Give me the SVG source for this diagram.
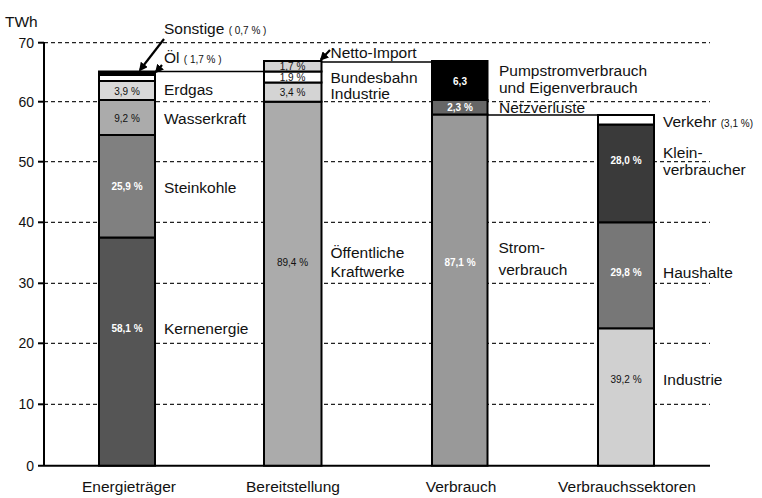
<svg xmlns="http://www.w3.org/2000/svg" width="762" height="498" viewBox="0 0 762 498">
<style>
text{font-family:"Liberation Sans",Arial,sans-serif;fill:#111}
.lb{font-size:15.5px}
.sm{font-size:10px}
.pc{font-size:10px;text-anchor:middle}
.pw{font-size:10px;text-anchor:middle;fill:#fff;font-weight:bold}
.ax{font-size:14px;text-anchor:end}
.cat{font-size:15.5px;text-anchor:middle}
.grid{stroke:#222;stroke-width:1.2;stroke-dasharray:4 3}
.seg{stroke:#000;stroke-width:2}
.con{stroke:#000;stroke-width:1.5;fill:none}
.arr{stroke:#000;stroke-width:2.2;fill:none;marker-end:url(#ah)}
</style>
<defs>
<marker id="ah" viewBox="0 0 10 10" refX="8" refY="5" markerWidth="4" markerHeight="4" orient="auto" markerUnits="strokeWidth">
<path d="M0,0 L10,5 L0,10 z" fill="#000"/>
</marker>
</defs>
<rect width="762" height="498" fill="#fff"/>
<g id="axes">
<line class="grid" x1="44" y1="42.7" x2="710" y2="42.7"/>
<line class="grid" x1="44" y1="101.7" x2="710" y2="101.7"/>
<line class="grid" x1="44" y1="161.7" x2="710" y2="161.7"/>
<line class="grid" x1="44" y1="222.3" x2="710" y2="222.3"/>
<line class="grid" x1="44" y1="283.3" x2="710" y2="283.3"/>
<line class="grid" x1="44" y1="343.3" x2="710" y2="343.3"/>
<line class="grid" x1="44" y1="404.3" x2="710" y2="404.3"/>
<line x1="44" y1="42" x2="44" y2="466" stroke="#000" stroke-width="2"/>
<line x1="38" y1="465.7" x2="710" y2="465.7" stroke="#000" stroke-width="2"/>
<g stroke="#000" stroke-width="2">
<line x1="38" y1="42.7" x2="44" y2="42.7"/><line x1="38" y1="101.7" x2="44" y2="101.7"/>
<line x1="38" y1="161.7" x2="44" y2="161.7"/><line x1="38" y1="222.3" x2="44" y2="222.3"/>
<line x1="38" y1="283.3" x2="44" y2="283.3"/><line x1="38" y1="343.3" x2="44" y2="343.3"/>
<line x1="38" y1="404.3" x2="44" y2="404.3"/>
</g>
<text x="5" y="27" class="lb">TWh</text>
<text x="34" y="47.5" class="ax">70</text>
<text x="34" y="106.5" class="ax">60</text>
<text x="34" y="166.5" class="ax">50</text>
<text x="34" y="227" class="ax">40</text>
<text x="34" y="288" class="ax">30</text>
<text x="34" y="348" class="ax">20</text>
<text x="34" y="409" class="ax">10</text>
<text x="34" y="470.5" class="ax">0</text>
<text x="129" y="491.5" class="cat">Energieträger</text>
<text x="293" y="491.5" class="cat">Bereitstellung</text>
<text x="461" y="491.5" class="cat">Verbrauch</text>
<text x="627" y="491.5" class="cat">Verbrauchssektoren</text>
</g>
<g id="connectors">
<line class="con" x1="155" y1="71.5" x2="264" y2="71.5"/>
<line class="con" x1="321" y1="62" x2="432" y2="62"/>
<line class="con" x1="487" y1="115" x2="598" y2="115"/>
<line class="arr" x1="164" y1="39" x2="140" y2="70"/>
<line class="arr" x1="162" y1="65" x2="156" y2="72"/>
<line class="arr" x1="330" y1="50" x2="321" y2="59.5"/>
</g>
<g id="bar-energietraeger">
<rect class="seg" x="99" y="237.5" width="56" height="228.2" fill="#555"/>
<rect class="seg" x="99" y="135" width="56" height="102.5" fill="#808080"/>
<rect class="seg" x="99" y="100" width="56" height="35" fill="#ababab"/>
<rect class="seg" x="99" y="81" width="56" height="19" fill="#d8d8d8"/>
<rect class="seg" x="99" y="75" width="56" height="6" fill="#fff"/>
<rect class="seg" x="99" y="71.5" width="56" height="3.5" fill="#000"/>
<text x="127" y="331.5" class="pw">58,1 %</text>
<text x="127" y="190" class="pw">25,9 %</text>
<text x="127" y="121.5" class="pc">9,2 %</text>
<text x="127" y="94.5" class="pc">3,9 %</text>
<text x="164" y="334" class="lb">Kernenergie</text>
<text x="164" y="192.5" class="lb">Steinkohle</text>
<text x="164" y="124" class="lb">Wasserkraft</text>
<text x="164" y="95" class="lb">Erdgas</text>
<text x="164" y="63.3" class="lb">Öl <tspan class="sm">( 1,7 % )</tspan></text>
<text x="164" y="34.3" class="lb">Sonstige <tspan class="sm">( 0,7 % )</tspan></text>
</g>
<g id="bar-bereitstellung">
<rect class="seg" x="264" y="101.7" width="57.5" height="364" fill="#ababab"/>
<rect class="seg" x="264" y="82.5" width="57.5" height="19.2" fill="#d4d4d4"/>
<rect class="seg" x="264" y="71.5" width="57.5" height="11" fill="#fff"/>
<rect class="seg" x="264" y="61" width="57.5" height="10.5" fill="#d4d4d4"/>
<text x="292.5" y="266" class="pc">89,4 %</text>
<text x="292.5" y="95.5" class="pc">3,4 %</text>
<text x="292.5" y="80.5" class="pc">1,9 %</text>
<text x="292.5" y="70" class="pc">1,7 %</text>
<text x="330.5" y="58.3" class="lb">Netto-Import</text>
<text x="330.5" y="83.3" class="lb">Bundesbahn</text>
<text x="330.5" y="99.3" class="lb">Industrie</text>
<text x="330.5" y="258" class="lb">Öffentliche</text>
<text x="330.5" y="276.5" class="lb">Kraftwerke</text>
</g>
<g id="bar-verbrauch">
<rect class="seg" x="432" y="114.5" width="55.5" height="351.2" fill="#999"/>
<rect class="seg" x="432" y="100" width="55.5" height="14.5" fill="#666"/>
<rect class="seg" x="432" y="61" width="55.5" height="39" fill="#000"/>
<text x="460" y="266" class="pw">87,1 %</text>
<text x="460" y="110.7" class="pw">2,3 %</text>
<text x="460" y="85" class="pw">6,3</text>
<text x="499" y="76" class="lb">Pumpstromverbrauch</text>
<text x="499" y="92.5" class="lb">und Eigenverbrauch</text>
<text x="499" y="112.7" class="lb">Netzverluste</text>
<text x="498.5" y="253" class="lb">Strom-</text>
<text x="498.5" y="275" class="lb">verbrauch</text>
</g>
<g id="bar-verbrauchssektoren">
<rect class="seg" x="598" y="328.3" width="56" height="137.4" fill="#d0d0d0"/>
<rect class="seg" x="598" y="222.3" width="56" height="106" fill="#777"/>
<rect class="seg" x="598" y="124.5" width="56" height="97.8" fill="#3a3a3a"/>
<rect class="seg" x="598" y="115" width="56" height="9.5" fill="#fff"/>
<text x="626" y="382.7" class="pc">39,2 %</text>
<text x="626" y="275.7" class="pw">29,8 %</text>
<text x="626" y="164" class="pw">28,0 %</text>
<text x="663" y="126.7" class="lb">Verkehr <tspan class="sm">(3,1 %)</tspan></text>
<text x="663" y="158.3" class="lb">Klein-</text>
<text x="663" y="175" class="lb">verbraucher</text>
<text x="663" y="277.7" class="lb">Haushalte</text>
<text x="663" y="385" class="lb">Industrie</text>
</g>
</svg>
